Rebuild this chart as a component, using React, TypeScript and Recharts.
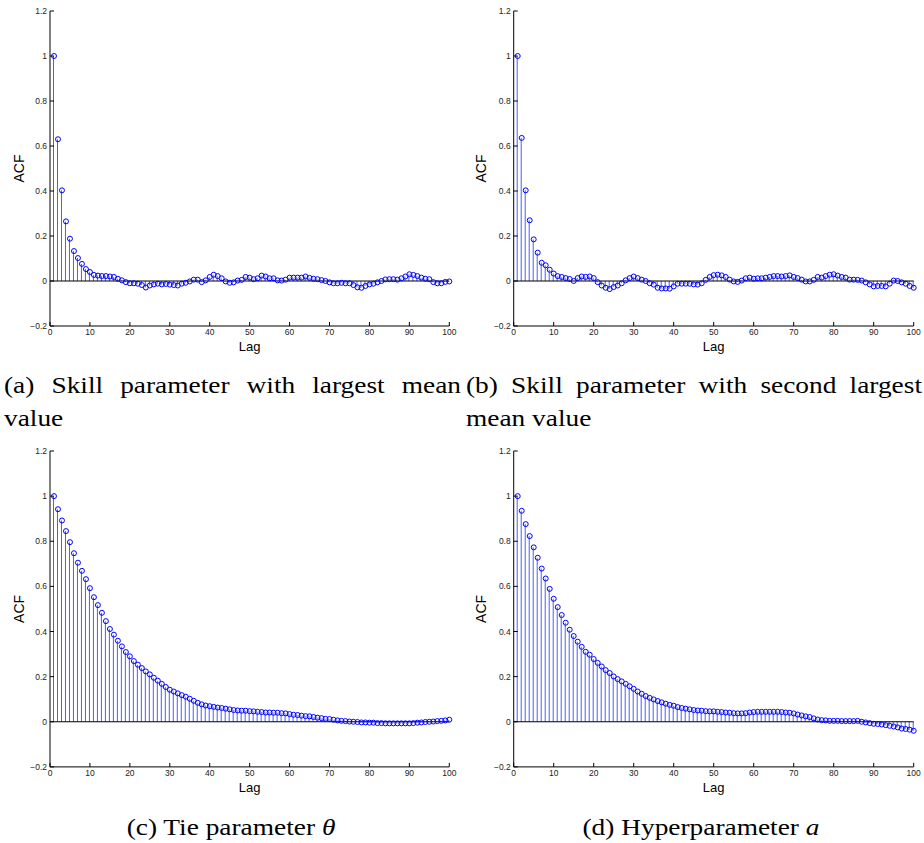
import React from 'react';
import { ComposedChart, Bar, Line, XAxis, YAxis, ReferenceLine } from 'recharts';

// lag axis: 1..100
const lags = Array.from({ length: 100 }, (_, i) => i + 1);
const xTicks = [0, 10, 20, 30, 40, 50, 60, 70, 80, 90, 100];
const yTicks = [-0.2, 0, 0.2, 0.4, 0.6, 0.8, 1, 1.2];

// (a) skill parameter with largest mean value
const acfSkillFirst = [
  1.0, 0.63, 0.403, 0.265, 0.188, 0.133, 0.102, 0.076, 0.053, 0.04,
  0.027, 0.024, 0.022, 0.022, 0.02, 0.018, 0.01, 0.003, -0.005, -0.01,
  -0.01, -0.012, -0.018, -0.029, -0.02, -0.015, -0.012, -0.015, -0.013, -0.016,
  -0.018, -0.02, -0.012, -0.008, -0.002, 0.006, 0.006, -0.005, 0.003, 0.018,
  0.028, 0.022, 0.012, -0.002, -0.008, -0.006, 0.002, 0.005, 0.018, 0.015,
  0.008, 0.012, 0.024, 0.02, 0.012, 0.012, 0.003, 0.002, 0.006, 0.015,
  0.015, 0.015, 0.015, 0.02, 0.014, 0.01, 0.008, 0.004, 0.0, -0.006,
  -0.01, -0.01, -0.008, -0.01, -0.01, -0.018, -0.028, -0.03, -0.022, -0.015,
  -0.012, -0.006, 0.0, 0.007, 0.008, 0.008, 0.006, 0.012, 0.02, 0.03,
  0.027, 0.022, 0.015, 0.01, 0.008, -0.005, -0.01, -0.01, -0.004, -0.002,
];

// (b) skill parameter with second largest mean value
const acfSkillSecond = [
  1.0, 0.636, 0.403, 0.27, 0.185, 0.126, 0.081, 0.07, 0.05, 0.033,
  0.022, 0.018, 0.013, 0.009, 0.0, 0.013, 0.02, 0.018, 0.02, 0.013,
  -0.005, -0.02, -0.03, -0.036, -0.027, -0.02, -0.01, 0.003, 0.013, 0.02,
  0.013, 0.006, 0.0, -0.01, -0.016, -0.03, -0.033, -0.033, -0.034, -0.024,
  -0.012, -0.012, -0.012, -0.012, -0.015, -0.016, -0.01, 0.005, 0.018, 0.026,
  0.028, 0.025, 0.018, 0.006, -0.002, -0.004, 0.002, 0.012, 0.015, 0.01,
  0.012, 0.012, 0.015, 0.018, 0.022, 0.022, 0.02, 0.022, 0.025, 0.018,
  0.013, 0.006, -0.002, -0.002, 0.005, 0.018, 0.015, 0.022, 0.028, 0.03,
  0.024, 0.018, 0.015, 0.006, 0.006, 0.005, 0.002, -0.006, -0.015, -0.024,
  -0.022, -0.022, -0.024, -0.012, 0.002, 0.0, -0.006, -0.012, -0.022, -0.03,
];

// (c) tie parameter theta
const acfTie = [
  1.0, 0.942, 0.892, 0.845, 0.796, 0.747, 0.705, 0.669, 0.632, 0.592,
  0.552, 0.517, 0.483, 0.446, 0.411, 0.386, 0.359, 0.334, 0.309, 0.29,
  0.269, 0.253, 0.238, 0.223, 0.21, 0.195, 0.182, 0.168, 0.154, 0.142,
  0.134, 0.126, 0.118, 0.111, 0.102, 0.093, 0.084, 0.077, 0.072, 0.069,
  0.066, 0.063, 0.061, 0.058, 0.055, 0.052, 0.05, 0.049, 0.049, 0.047,
  0.046, 0.044, 0.043, 0.041, 0.041, 0.04, 0.04, 0.038, 0.037, 0.034,
  0.031, 0.03, 0.027, 0.025, 0.024, 0.021, 0.018, 0.016, 0.013, 0.012,
  0.009, 0.006, 0.004, 0.003, 0.001, 0.0, -0.001, -0.003, -0.003, -0.004,
  -0.004, -0.006, -0.006, -0.007, -0.007, -0.007, -0.007, -0.007, -0.007, -0.007,
  -0.006, -0.004, -0.003, -0.001, 0.0, 0.001, 0.003, 0.004, 0.006, 0.009,
];

// (d) hyperparameter a
const acfHyper = [
  1.0, 0.935, 0.876, 0.823, 0.773, 0.727, 0.679, 0.635, 0.589, 0.545,
  0.508, 0.473, 0.439, 0.408, 0.38, 0.355, 0.332, 0.31, 0.297, 0.278,
  0.261, 0.245, 0.229, 0.216, 0.201, 0.189, 0.179, 0.168, 0.157, 0.146,
  0.134, 0.124, 0.114, 0.106, 0.099, 0.092, 0.086, 0.08, 0.075, 0.071,
  0.065, 0.061, 0.058, 0.055, 0.052, 0.05, 0.049, 0.047, 0.046, 0.046,
  0.044, 0.043, 0.041, 0.04, 0.038, 0.037, 0.037, 0.038, 0.041, 0.043,
  0.044, 0.044, 0.044, 0.044, 0.044, 0.044, 0.043, 0.041, 0.04, 0.037,
  0.032, 0.028, 0.024, 0.021, 0.015, 0.01, 0.007, 0.006, 0.004, 0.004,
  0.004, 0.003, 0.003, 0.003, 0.003, 0.004, 0.0, -0.003, -0.006, -0.009,
  -0.01, -0.012, -0.015, -0.018, -0.021, -0.025, -0.03, -0.032, -0.035, -0.04,
];

const sans = '"Liberation Sans", Arial, Helvetica, sans-serif';
const serif = '"Liberation Serif", "Times New Roman", serif';
const blue = '#0000ff';
const stemBlue = '#4a5eff';
const tickStyle = { fontSize: 8.5, fill: '#222', fontFamily: sans };
const padTop = 12;
const capScale = 1.14;

const fmtY = (v: number) => {
  if (v === 0) return '0';
  if (v < 0) return '\u2212' + Math.abs(v).toFixed(1);
  return String(Number(v.toFixed(1)));
};

function AcfPanel({ values, left, top, plotH, yAxisW, rightM }: {
  values: number[]; left: number; top: number; plotH: number; yAxisW: number; rightM: number;
}) {
  const data = lags.map((lag, i) => ({ lag, acf: values[i] }));
  return (
    <div style={{ position: 'absolute', left, top: top - padTop }}>
      <ComposedChart width={462} height={plotH + 30 + padTop} data={data}
        margin={{ top: padTop, right: rightM, bottom: 0, left: 0 }}>
        <XAxis xAxisId="b" dataKey="lag" type="number" domain={[0, 100]} ticks={xTicks}
          height={30} tickSize={-4} tickMargin={7} tick={tickStyle}
          axisLine={{ stroke: '#000' }} tickLine={{ stroke: '#000' }} interval={0}
          label={{ value: 'Lag', position: 'insideBottom', offset: 5, style: { fontSize: 13, fill: '#000', fontFamily: sans } }} />
        <XAxis xAxisId="t" dataKey="lag" type="number" domain={[0, 100]} ticks={xTicks}
          orientation="top" height={0} tickSize={-4} tickFormatter={() => ''}
          axisLine={{ stroke: '#000' }} tickLine={{ stroke: '#000' }} interval={0} allowDataOverflow />
        <YAxis yAxisId="l" type="number" domain={[-0.2, 1.2]} ticks={yTicks} width={yAxisW}
          tickSize={-4} tickMargin={7} tick={tickStyle} tickFormatter={fmtY} interval={0}
          axisLine={{ stroke: '#000' }} tickLine={{ stroke: '#000' }} allowDataOverflow
          label={{ value: 'ACF', angle: -90, position: 'insideLeft', offset: 19, style: { textAnchor: 'middle', fontSize: 14, fill: '#000', fontFamily: sans } }} />
        <YAxis yAxisId="r" orientation="right" type="number" domain={[-0.2, 1.2]} ticks={yTicks}
          width={0} tickSize={-4} tickFormatter={() => ''} interval={0}
          axisLine={{ stroke: '#000' }} tickLine={{ stroke: '#000' }} allowDataOverflow />
        <Bar xAxisId="b" yAxisId="l" dataKey="acf" barSize={1} fill={stemBlue} isAnimationActive={false} />
        <ReferenceLine xAxisId="b" yAxisId="l" y={0} stroke="#000" strokeWidth={1} />
        <Line xAxisId="b" yAxisId="l" dataKey="acf" stroke="none" activeDot={false}
          dot={{ r: 2.5, stroke: blue, strokeWidth: 1, fill: 'none' }} isAnimationActive={false} />
      </ComposedChart>
    </div>
  );
}

const capStyle: React.CSSProperties = {
  position: 'absolute', fontFamily: serif, fontSize: 24, lineHeight: '33px', color: '#000',
  transform: `scaleX(${capScale})`,
};
const justified: React.CSSProperties = { textAlign: 'justify', textAlignLast: 'justify' };

export default function App() {
  return (
    <div style={{ position: 'absolute', left: 0, top: 0, width: 924, height: 843, background: '#fff' }}>
      <AcfPanel values={acfSkillFirst} left={0} top={10.7} plotH={315} yAxisW={50} rightM={12.7} />
      <AcfPanel values={acfSkillSecond} left={462} top={10.7} plotH={315} yAxisW={51.7} rightM={10.3} />
      <AcfPanel values={acfTie} left={0} top={450.9} plotH={315.9} yAxisW={50} rightM={12.7} />
      <AcfPanel values={acfHyper} left={462} top={450.9} plotH={315.9} yAxisW={51.7} rightM={10.3} />

      <div style={{ ...capStyle, left: 4, top: 369, width: 457 / capScale, transformOrigin: 'left top' }}>
        <div style={justified}>(a) Skill parameter with largest mean</div>
        <div>value</div>
      </div>
      <div style={{ ...capStyle, left: 466, top: 369, width: 456 / capScale, transformOrigin: 'left top' }}>
        <div style={justified}>(b) Skill parameter with second largest</div>
        <div>mean value</div>
      </div>
      <div style={{ ...capStyle, left: 0, top: 811, width: 462, textAlign: 'center', transformOrigin: 'center top' }}>
        (c) Tie parameter <i>θ</i>
      </div>
      <div style={{ ...capStyle, left: 470, top: 811, width: 462, textAlign: 'center', transformOrigin: 'center top' }}>
        (d) Hyperparameter <i>a</i>
      </div>
    </div>
  );
}
